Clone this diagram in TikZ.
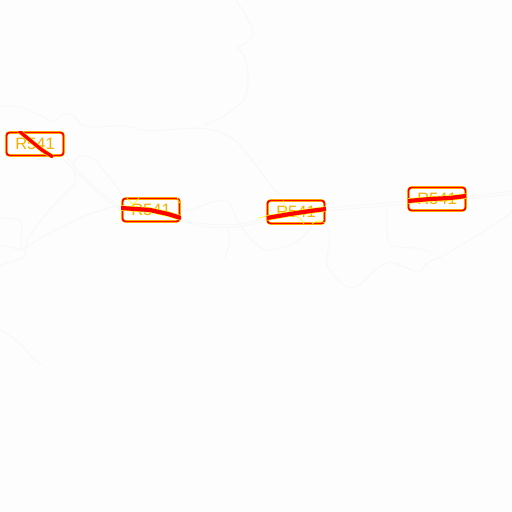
\documentclass[tikz,border=0pt]{standalone}
\usepackage{fontspec}
\setmainfont{Liberation Sans}
\definecolor{bgc}{HTML}{FDFDFD}
\definecolor{faint}{HTML}{F7F7F7}
\definecolor{roadred}{HTML}{FF0000}
\definecolor{edgey}{HTML}{FFFF00}
\definecolor{labelc}{HTML}{F5B000}
\tikzset{
  faintline/.style={draw=faint,line width=0.8pt,line join=round,line cap=round},
  shield/.style={draw=roadred,line width=1.9pt,rounded corners=3pt,minimum width=57pt,minimum height=23pt,inner sep=0pt,text=labelc,font=\fontsize{16.5}{17}\selectfont,preaction={draw=edgey,line width=2.6pt}},
  roadglow/.style={draw=edgey,line width=5.4pt,line cap=butt,line join=round},
  roadcore/.style={draw=roadred,line width=4.2pt,line cap=butt,line join=round},
  trace/.style={draw=edgey,line width=0.6pt}
}
\begin{document}
\begin{tikzpicture}[x=1pt,y=-1pt]
\useasboundingbox (0,0) rectangle (512,512);
\fill[bgc] (0,0) rectangle (512,512);
% faint map lines
\draw[faintline] (0,106) .. controls (30,104) and (40,118) .. (55,122) .. controls (62,112) and (70,108) .. (80,124) .. controls (100,132) and (115,120) .. (140,130) .. controls (170,134) and (205,118) .. (235,140) .. controls (250,155) and (265,180) .. (280,195);
\draw[faintline] (236,0) .. controls (245,15) and (255,25) .. (252,38) .. controls (248,42) and (240,45) .. (238,48) .. controls (250,60) and (250,85) .. (245,98) .. controls (235,110) and (220,120) .. (205,125);
\draw[faintline] (64,152) .. controls (75,170) and (95,190) .. (122,208);
\draw[faintline] (60,156) .. controls (80,175) and (95,195) .. (122,210);
\draw[faintline] (75,160) .. controls (78,154) and (88,155) .. (95,160) .. controls (105,170) and (115,185) .. (125,198);
\draw[faintline] (75,160) .. controls (72,170) and (76,178) .. (76,184) .. controls (60,195) and (45,215) .. (30,235) .. controls (25,245) and (25,250) .. (25,256) .. controls (15,262) and (5,263) .. (0,266);
\draw[faintline] (120,205) .. controls (90,212) and (60,225) .. (22,250) .. controls (12,248) and (5,245) .. (0,246);
\draw[faintline] (0,218) .. controls (10,220) and (20,215) .. (22,225) .. controls (22,235) and (20,245) .. (22,250);
\draw[faintline] (180,210) .. controls (195,215) and (205,198) .. (228,201) .. controls (235,215) and (245,240) .. (265,250) .. controls (285,250) and (305,240) .. (312,225);
\draw[faintline] (180,218) .. controls (200,226) and (235,228) .. (267,218);
\draw[faintline] (180,220) .. controls (200,229) and (235,231) .. (267,220);
\draw[faintline] (228,230) .. controls (232,240) and (228,250) .. (225,258);
\draw[faintline] (325,208) -- (408,201);
\draw[faintline] (325,211) -- (408,204);
\draw[faintline] (466,197) -- (512,191);
\draw[faintline] (466,199) -- (512,194);
\draw[faintline] (325,224) .. controls (335,235) and (325,255) .. (327,265) .. controls (335,280) and (345,288) .. (352,288) .. controls (365,285) and (375,265) .. (390,262) .. controls (405,265) and (415,275) .. (422,270) .. controls (425,262) and (430,262) .. (445,255) .. controls (470,240) and (495,225) .. (512,212);
\draw[faintline] (386,205) .. controls (388,220) and (385,235) .. (390,245) .. controls (405,250) and (415,245) .. (430,252);
\draw[faintline] (0,330) .. controls (15,338) and (22,345) .. (28,352) .. controls (32,360) and (38,362) .. (42,364);
% shields
\node[shield] (shieldA) at (35,144) {R541};
\node[shield] (shieldB) at (151,210) {R541};
\node[shield] (shieldC) at (296,212) {R541};
\node[shield] (shieldD) at (437,199) {R541};
% yellow traces of side roads
\draw[trace] (127,198) -- (133,205) -- (139,198);
\draw[trace] (177,198) -- (180,203);
\draw[trace] (283,200) -- (286,212) -- (300,218) -- (304,224);
\draw[trace] (312,224) .. controls (316,220) and (321,220) .. (325,223);
\draw[trace] (258,218) -- (267,216);
% road segments inside the shields
\begin{scope}
\clip (6,131) rectangle (65,157);
\draw[roadglow,line width=4.6pt] (19,131) -- (31,141) -- (42,150) -- (53,157);
\draw[roadcore,line width=3.4pt] (19,131) -- (31,141) -- (42,150) -- (53,157);
\end{scope}
\begin{scope}
\clip (121,197) rectangle (181,223);
\draw[roadglow] (121,208) -- (150,210) -- (168,214) -- (181,218);
\draw[roadcore] (121,208) -- (150,210) -- (168,214) -- (181,218);
\end{scope}
\begin{scope}
\clip (266,199) rectangle (326,225);
\draw[roadglow] (267,218) -- (290,214) -- (310,211) -- (326,209);
\draw[roadcore] (267,218) -- (290,214) -- (310,211) -- (326,209);
\end{scope}
\begin{scope}
\clip (407,186) rectangle (467,212);
\draw[roadglow] (408,201) -- (430,199) -- (450,198) -- (466,196);
\draw[roadcore] (408,201) -- (430,199) -- (450,198) -- (466,196);
\end{scope}
\end{tikzpicture}
\end{document}
